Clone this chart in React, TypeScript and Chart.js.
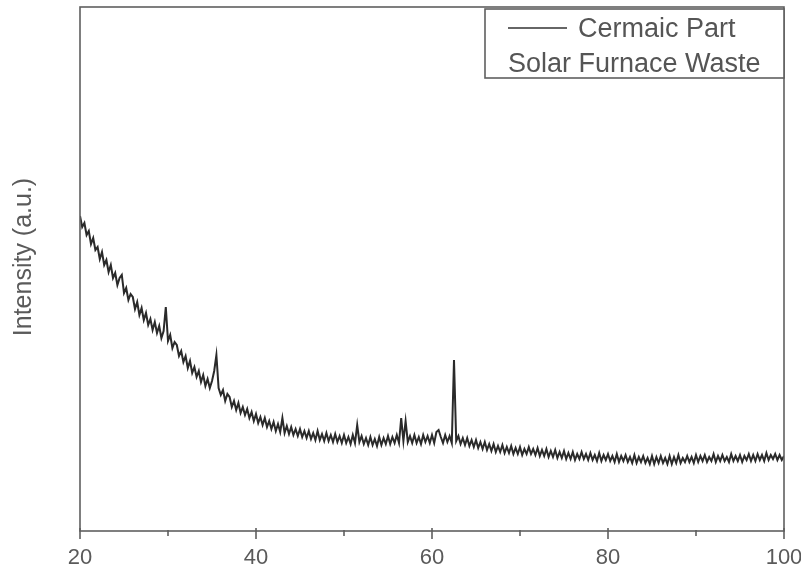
import React, { useEffect, useRef } from "react";
import { Chart, registerables } from "chart.js";

Chart.register(...registerables);

// 2θ sampling of the scan (degrees)
const START_2THETA = 20;
const STEP_2THETA = 0.25;

// Intensity (a.u.), one row per degree (x.00, x.25, x.50, x.75)
const ceramicIntensity: number[] = [
  315, 304, 308, 296, // 20
  300, 287, 293, 281, // 21
  284, 272, 279, 266, // 22
  271, 259, 266, 253, // 23
  258, 246, 253, 256, // 24
  238, 243, 231, 237, // 25
  234, 222, 229, 216, // 26
  223, 211, 218, 206, // 27
  212, 201, 209, 198, // 28
  205, 193, 200, 224, // 29
  190, 196, 183, 189, // 30
  186, 175, 180, 169, // 31
  175, 163, 170, 158, // 32
  164, 154, 160, 149, // 33
  156, 145, 152, 143, // 34
  150, 160, 176, 143, // 35
  136, 141, 130, 137, // 36
  134, 124, 130, 121, // 37
  128, 118, 124, 116, // 38
  122, 113, 119, 110, // 39
  117, 108, 114, 106, // 40
  113, 104, 110, 102, // 41
  109, 100, 107, 99, // 42
  113, 98, 105, 97, // 43
  104, 96, 102, 95, // 44
  102, 94, 100, 93, // 45
  100, 92, 98, 91, // 46
  100, 91, 97, 90, // 47
  98, 90, 96, 89, // 48
  97, 89, 95, 88, // 49
  96, 88, 94, 87, // 50
  96, 88, 106, 89, // 51
  95, 87, 93, 86, // 52
  94, 86, 92, 85, // 53
  94, 86, 93, 87, // 54
  95, 87, 94, 88, // 55
  96, 88, 113, 90, // 56
  110, 89, 95, 88, // 57
  96, 88, 94, 87, // 58
  96, 89, 95, 88, // 59
  96, 88, 99, 101, // 60
  94, 88, 96, 89, // 61
  95, 88, 171, 90, // 62
  95, 87, 93, 86, // 63
  93, 85, 91, 84, // 64
  91, 83, 89, 82, // 65
  89, 81, 87, 80, // 66
  87, 79, 85, 79, // 67
  86, 78, 84, 78, // 68
  85, 77, 83, 77, // 69
  84, 76, 82, 77, // 70
  84, 77, 82, 76, // 71
  83, 75, 81, 75, // 72
  82, 74, 80, 74, // 73
  81, 73, 79, 73, // 74
  80, 72, 78, 72, // 75
  79, 71, 77, 72, // 76
  79, 72, 77, 71, // 77
  78, 71, 76, 70, // 78
  78, 70, 76, 71, // 79
  77, 70, 75, 69, // 80
  77, 69, 75, 70, // 81
  76, 69, 74, 68, // 82
  76, 68, 74, 69, // 83
  75, 68, 73, 67, // 84
  75, 67, 74, 68, // 85
  75, 68, 73, 67, // 86
  75, 67, 74, 68, // 87
  76, 68, 73, 69, // 88
  75, 69, 74, 68, // 89
  76, 69, 75, 70, // 90
  76, 69, 74, 70, // 91
  77, 69, 75, 70, // 92
  76, 70, 74, 69, // 93
  77, 70, 75, 70, // 94
  76, 69, 75, 71, // 95
  77, 70, 76, 70, // 96
  77, 71, 76, 70, // 97
  78, 71, 76, 72, // 98
  77, 71, 76, 71, // 99
  75, // 100
];

const seriesLabels = ["Cermaic Part", "Solar Furnace Waste"];
const xTickValues = [20, 30, 40, 50, 60, 70, 80, 90, 100];
const xTickLabels = ["20", "", "40", "", "60", "", "80", "", "100"];
const yTitle = "Intensity (a.u.)";

const FONT = "'Liberation Sans', Arial, sans-serif";

const framePlugin = {
  id: "frameAndLegend",
  afterDraw(chart: any) {
    const { ctx, chartArea } = chart;
    const xs = chart.scales.x;
    ctx.save();
    // frame
    ctx.strokeStyle = "#5f5f5f";
    ctx.lineWidth = 1.6;
    ctx.strokeRect(chartArea.left, chartArea.top, chartArea.right - chartArea.left, chartArea.bottom - chartArea.top);
    // x ticks (major / minor)
    xTickValues.forEach((v, i) => {
      const px = xs.getPixelForValue(v);
      const major = xTickLabels[i] !== "";
      ctx.beginPath();
      ctx.moveTo(px, chartArea.bottom - (major ? 3 : 1));
      ctx.lineTo(px, chartArea.bottom + (major ? 8 : 5));
      ctx.stroke();
    });
    // y title
    ctx.fillStyle = "#5a5a5a";
    ctx.font = `25px ${FONT}`;
    ctx.textAlign = "center";
    ctx.textBaseline = "middle";
    ctx.translate(24, 257);
    ctx.rotate(-Math.PI / 2);
    ctx.fillText(yTitle, 0, 0);
    ctx.restore();

    // legend
    ctx.save();
    ctx.fillStyle = "#fff";
    ctx.strokeStyle = "#5f5f5f";
    ctx.lineWidth = 1.6;
    ctx.fillRect(485, 9, chartArea.right - 485, 69);
    ctx.strokeRect(485, 9, chartArea.right - 485, 69);
    ctx.strokeStyle = "#333";
    ctx.lineWidth = 1.5;
    ctx.beginPath();
    ctx.moveTo(508, 28);
    ctx.lineTo(567, 28);
    ctx.stroke();
    ctx.fillStyle = "#555";
    ctx.font = `27px ${FONT}`;
    ctx.textAlign = "left";
    ctx.textBaseline = "alphabetic";
    ctx.fillText(chart.data.datasets[0].label, 578, 37);
    ctx.fillText(chart.data.datasets[1].label, 508, 72);
    ctx.restore();
  },
};

export default function App() {
  const canvasRef = useRef<HTMLCanvasElement | null>(null);

  useEffect(() => {
    document.body.style.margin = "0";
    const canvas = canvasRef.current;
    if (!canvas) return;
    const chart = new Chart(canvas, {
      type: "line",
      data: {
        datasets: [
          {
            label: seriesLabels[0],
            data: ceramicIntensity.map((v, i) => ({ x: START_2THETA + i * STEP_2THETA, y: v })),
            borderColor: "#2a2a2a",
            borderWidth: 2,
            pointRadius: 0,
            tension: 0,
            fill: false,
          },
          {
            label: seriesLabels[1],
            data: [],
            borderColor: "#2a2a2a",
            borderWidth: 1.6,
            pointRadius: 0,
          },
        ],
      },
      options: {
        animation: false,
        responsive: false,
        maintainAspectRatio: false,
        layout: { padding: { top: 7, right: 17, left: 0, bottom: 0 } },
        plugins: { legend: { display: false }, tooltip: { enabled: false } },
        scales: {
          x: {
            type: "linear",
            min: 20,
            max: 100,
            afterBuildTicks: (scale: any) => {
              scale.ticks = xTickValues.map((v) => ({ value: v }));
            },
            afterFit: (scale: any) => {
              scale.height = 36;
              scale.paddingLeft = 0;
              scale.paddingRight = 0;
            },
            ticks: {
              autoSkip: false,
              maxRotation: 0,
              padding: 14,
              color: "#5a5a5a",
              font: { family: FONT, size: 22 },
              callback: (_v: any, i: number) => xTickLabels[i],
            },
            grid: { display: false, drawTicks: false },
            border: { display: false },
          },
          y: {
            type: "linear",
            min: 0,
            max: 524,
            afterFit: (scale: any) => {
              scale.width = 80;
              scale.paddingTop = 0;
              scale.paddingBottom = 0;
            },
            ticks: { display: false },
            grid: { display: false, drawTicks: false },
            border: { display: false },
          },
        },
      },
      plugins: [framePlugin],
    });
    return () => chart.destroy();
  }, []);

  return (
    <div style={{ width: 801, height: 567, background: "#fff" }}>
      <canvas ref={canvasRef} width={801} height={567} style={{ display: "block" }} />
    </div>
  );
}
